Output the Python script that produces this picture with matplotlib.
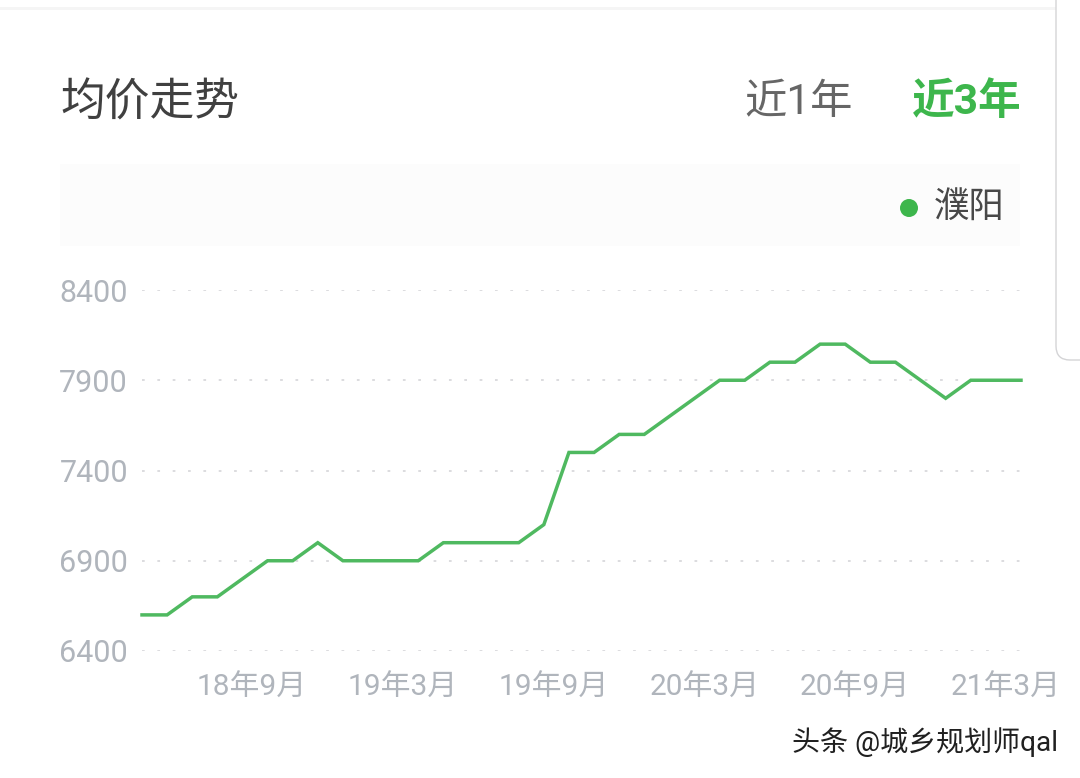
#!/usr/bin/env python3
# -*- coding: utf-8 -*-

import numpy as np
from matplotlib import pyplot as plt
from matplotlib.patches import Circle, FancyBboxPatch, Rectangle
from matplotlib.transforms import ScaledTranslation

#%% INPUT

PRICES = [6600, 6600, 6700, 6700, 6800, 6900, 6900, 7000, 6900, 6900, 6900, 6900,
          7000, 7000, 7000, 7000, 7100, 7500, 7500, 7600, 7600, 7700, 7800, 7900,
          7900, 8000, 8000, 8100, 8100, 8000, 8000, 7900, 7800, 7900, 7900, 7900]
Y_TICKS = [6400, 6900, 7400, 7900, 8400]
X_TICKS = [5, 11, 17, 23, 29, 35]
X_LABELS = ['18年9月', '19年3月', '19年9月', '20年3月', '20年9月', '21年3月']

WIDTH, HEIGHT = 1080, 778
DPI = 100
GREEN = '#3db64c'
LINE_GREEN = '#4fb960'
TICK_GREY = '#b0b5bc'
FONTS = ['Roboto', 'Noto Sans CJK SC', 'DejaVu Sans']

plt.rcParams['font.family'] = FONTS

#%% PLOT

fig = plt.figure(figsize=(WIDTH / DPI, HEIGHT / DPI), dpi=DPI, facecolor='white')

# Page furniture, in pixel coordinates of the screenshot
bg = fig.add_axes([0, 0, 1, 1])
bg.set_xlim(0, WIDTH)
bg.set_ylim(HEIGHT, 0)
bg.axis('off')
bg.add_patch(Rectangle((0, 7), 1056, 3, fc='#f5f5f5', ec='none'))
bg.add_patch(FancyBboxPatch((1056, -40), 80, 400,
                            boxstyle='round,pad=0,rounding_size=14',
                            fc='white', ec='#d4d4d6', lw=1))
bg.add_patch(Rectangle((60, 164), 960, 82, fc='#fcfcfc', ec='none'))
bg.add_patch(Circle((909, 208), 9, fc=GREEN, ec='none'))

bg.text(60, 103, '均价走势', fontsize=32.2, color='#404040', va='center', ha='left')
bg.text(744, 102, '近1年', fontsize=30.5, color='#666666', va='center', ha='left')
bg.text(1022, 102, '近3年', fontsize=30.7, color=GREEN, va='center', ha='right',
        fontweight='bold')
bg.text(934, 208, '濮阳', fontsize=25.5, color='#484848', va='center', ha='left')
bg.text(792, 742, '头条 @城乡规划师qal', fontsize=20.2, color='#202020',
        va='center', ha='left')

# Price curve: axes span is the plotted area of the picture
ax = fig.add_axes([142 / WIDTH, 1 - 651 / HEIGHT, (1021 - 142) / WIDTH, (651 - 290) / HEIGHT])
ax.patch.set_alpha(0)
ax.plot(np.arange(len(PRICES)), PRICES, color=LINE_GREEN, lw=2.5, clip_on=False,
        solid_joinstyle='miter', zorder=3)
ax.set_xlim(0, len(PRICES) - 1)
ax.set_ylim(Y_TICKS[0], Y_TICKS[-1])
ax.set_yticks(Y_TICKS)
ax.set_xticks(X_TICKS)
ax.set_xticklabels(X_LABELS)
ax.grid(True, axis='y', color='#d9d9dc', lw=1.3, linestyle=(0, (1.5, 7)))
ax.set_axisbelow(True)
for spine in ax.spines.values():
    spine.set_visible(False)
ax.tick_params(axis='y', length=0, pad=10, labelsize=22, labelcolor=TICK_GREY)
ax.tick_params(axis='x', length=0, pad=16.5, labelsize=21.5, labelcolor=TICK_GREY)

# x labels sit a bit left of their month
shift = ScaledTranslation(-15.5 / DPI, 0, fig.dpi_scale_trans)
for label in ax.get_xticklabels():
    label.set_transform(label.get_transform() + shift)

fig.savefig('out.png', dpi=DPI)
